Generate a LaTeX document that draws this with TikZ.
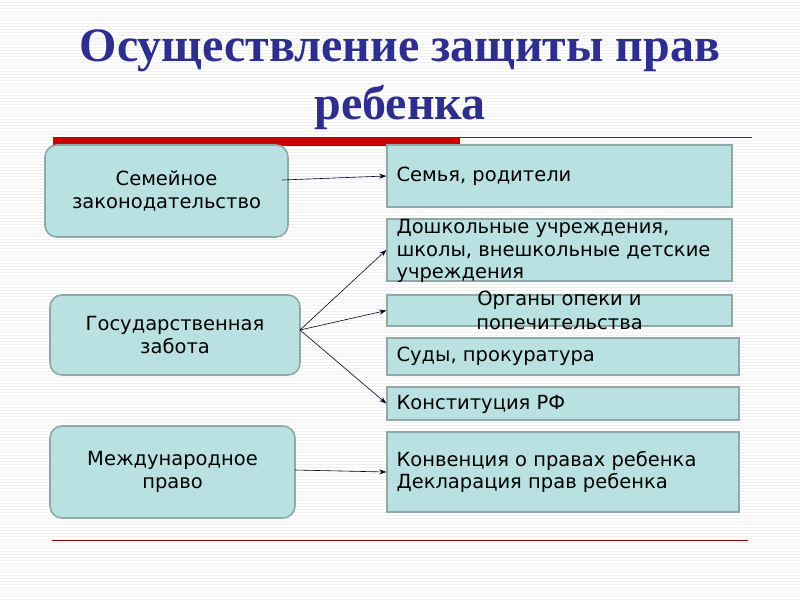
\documentclass[tikz,border=0pt]{standalone}
\usepackage{fontspec}
\setmainfont{DejaVu Sans}
\newfontfamily\titlefont{Liberation Serif}
\usetikzlibrary{arrows.meta}
\definecolor{boxfill}{HTML}{B9E1E1}
\definecolor{boxline}{HTML}{8FA8A8}
\definecolor{titleblue}{HTML}{2E2E8E}
\definecolor{barred}{HTML}{CC0000}
\tikzset{
  leftbox/.style={draw=boxline, line width=1.6pt, fill=boxfill, rounded corners=12pt, inner sep=0pt},
  rightbox/.style={draw=boxline, line width=1.4pt, fill=boxfill, inner sep=0pt},
  lbl/.style={font=\fontsize{19.5}{23}\selectfont, align=center, text=black},
  rlbl/.style={font=\fontsize{19.5}{22.5}\selectfont, align=left, text=black, anchor=west},
  conn/.style={-{Stealth[length=7pt,width=5pt]}, line width=0.6pt, draw=black!85!blue},
}
\begin{document}
\begin{tikzpicture}[x=1pt,y=-1pt]
\useasboundingbox (0,0) rectangle (800,600);
\fill[white] (0,0) rectangle (800,600);
% faint stripes
\foreach \yy in {2,5,...,599} {\draw[black!6, line width=0.6pt] (0,\yy) -- (800,\yy);}
% title
\node[font=\titlefont\bfseries\fontsize{48}{58}\selectfont, text=titleblue, align=center] (title) at (400,80) {Осуществление защиты прав\\ребенка};
% red bar
\fill[barred] (53,137) rectangle (460,146);
\draw[barred, line width=0.8pt] (460,137.5) -- (752,137.5);
\draw[barred!70!black, line width=0.8pt] (52,540) -- (748,540);
% left boxes
\node[leftbox, minimum width=243pt, minimum height=92pt] (l1) at (166.5,191) {};
\node[lbl] at (l1) {Семейное\\законодательство};
\node[leftbox, minimum width=250pt, minimum height=80pt] (l2) at (175,335) {};
\node[lbl] at (l2) {Государственная\\забота};
\node[leftbox, minimum width=245pt, minimum height=92pt] (l3) at (172.5,472) {};
\node[lbl] at (l3) {Международное\\право};
% right boxes
\node[rightbox, minimum width=345pt, minimum height=62pt] (r1) at (559.5,176) {};
\node[rlbl] at (393,176) {Семья, родители};
\node[rightbox, minimum width=345pt, minimum height=62pt] (r2) at (559.5,250) {};
\node[rlbl] at (393,251) {Дошкольные учреждения,\\школы, внешкольные детские\\учреждения};
\node[rightbox, minimum width=345pt, minimum height=31pt] (r3) at (559.5,310.5) {};
\node[lbl, font=\fontsize{19.5}{24}\selectfont] at (559.5,310) {Органы опеки и\\попечительства};
\node[rightbox, minimum width=352pt, minimum height=37pt] (r4) at (563,356.5) {};
\node[rlbl] at (393,356.5) {Суды, прокуратура};
\node[rightbox, minimum width=352pt, minimum height=33pt] (r5) at (563,403.5) {};
\node[rlbl] at (393,404) {Конституция РФ};
\node[rightbox, minimum width=352pt, minimum height=80pt] (r6) at (563,472) {};
\node[rlbl] at (393,472) {Конвенция о правах ребенка\\Декларация прав ребенка};
% connectors
\coordinate (s1) at (282,180);
\coordinate (s2) at (300,330);
\coordinate (s3) at (295,470);
\draw[conn] (s1) -- (r1.west);
\draw[conn] (s2) -- (r2.west);
\draw[conn] (s2) -- (r3.west);
\draw[conn] (s2) -- (r5.west);
\draw[conn] (s3) -- (r6.west);
\end{tikzpicture}
\end{document}
